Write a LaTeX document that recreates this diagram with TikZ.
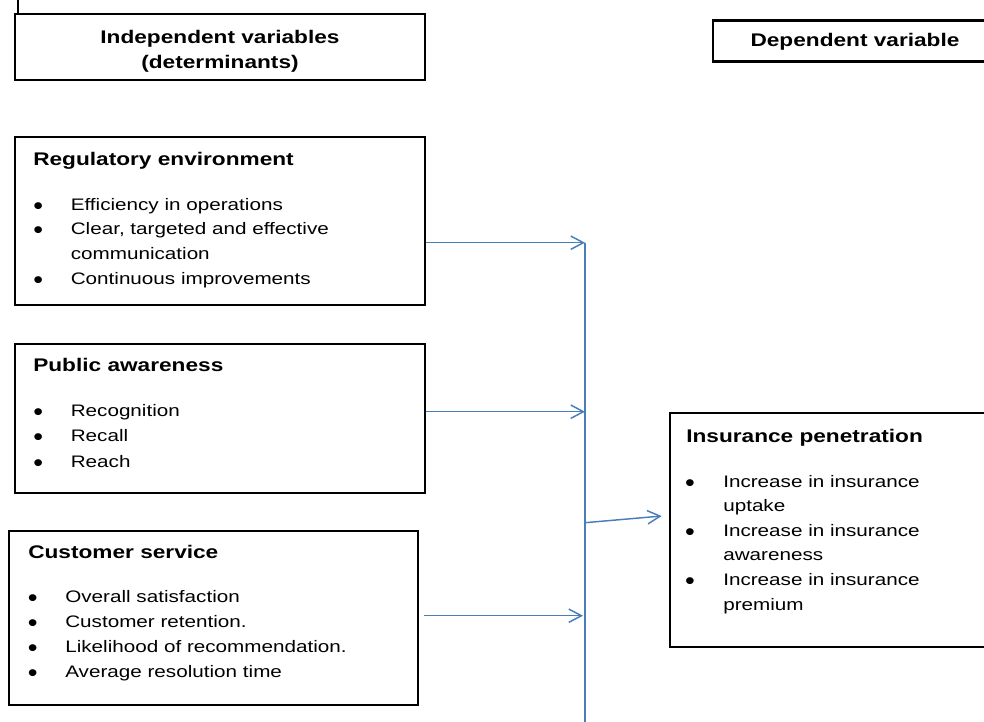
\documentclass[tikz,border=0pt]{standalone}
\usepackage{fontspec}
\setmainfont[FakeStretch=1.24]{Liberation Sans}
\newfontfamily\bulfont[FakeStretch=1.1]{Liberation Sans}
\usetikzlibrary{arrows.meta,fit}
\definecolor{linkblue}{HTML}{4A7EBB}
\begin{document}
\begin{tikzpicture}[x=0.75pt,y=-0.75pt,
  box/.style={draw=black,line width=2.2pt,inner sep=0pt},
  hdr/.style={anchor=base,inner sep=0pt,font=\fontsize{13.7}{16}\selectfont\bfseries},
  ttl/.style={anchor=base west,inner sep=0pt,font=\fontsize{13.7}{16}\selectfont\bfseries},
  itm/.style={anchor=base west,inner sep=0pt,font=\fontsize{12.5}{15}\selectfont},
  bul/.style={anchor=base,inner sep=0pt,yshift=-3pt,font=\bulfont\fontsize{19}{20}\selectfont},
  link/.style={draw=linkblue,line width=1.1pt},
  arr/.style={link,-{Straight Barb[length=9.5pt,width=10pt,line width=1.1pt]}}
]
\clip (0,0) rectangle (984,721);
\fill[white] (0,0) rectangle (984,721);

% tick mark at top left
\draw[line width=0.8pt] (18,0) -- (18,15);

% header boxes
\node[box,fit={(15,14) (425,80)}] (indbox) {};
\node[hdr] (ind1) at (220,43.3) {Independent variables};
\node[hdr] (ind2) at (220,68) {(determinants)};

\node[box,fit={(713,20.7) (1000,61.7)}] (depbox) {};
\node[hdr] (dep1) at (855,46.7) {Dependent variable};

% Regulatory environment
\node[box,fit={(15,137) (425,305)}] (reg) {};
\node[ttl] (regt) at (33,165) {Regulatory environment};
\node[bul] (regb1) at (38.3,210) {•};
\node[itm] (regi1) at (70.5,210) {Efficiency in operations};
\node[bul] (regb2) at (38.3,234.7) {•};
\node[itm] (regi2) at (70.5,234.7) {Clear, targeted and effective};
\node[itm] (regi3) at (70.5,259.3) {communication};
\node[bul] (regb4) at (38.3,284) {•};
\node[itm] (regi4) at (70.5,284) {Continuous improvements};

% Public awareness
\node[box,fit={(15,344) (425,493)}] (pub) {};
\node[ttl] (pubt) at (33,371.7) {Public awareness};
\node[bul] (pubb1) at (38.3,416.5) {•};
\node[itm] (pubi1) at (70.5,416.5) {Recognition};
\node[bul] (pubb2) at (38.3,441.7) {•};
\node[itm] (pubi2) at (70.5,441.7) {Recall};
\node[bul] (pubb3) at (38.3,467) {•};
\node[itm] (pubi3) at (70.5,467) {Reach};

% Customer service
\node[box,fit={(9,531) (418,705)}] (cust) {};
\node[ttl] (custt) at (28,558) {Customer service};
\node[bul] (custb1) at (32.7,602.5) {•};
\node[itm] (custi1) at (65,602.5) {Overall satisfaction};
\node[bul] (custb2) at (32.7,627.5) {•};
\node[itm] (custi2) at (65,627.5) {Customer retention.};
\node[bul] (custb3) at (32.7,652.5) {•};
\node[itm] (custi3) at (65,652.5) {Likelihood of recommendation.};
\node[bul] (custb4) at (32.7,677.5) {•};
\node[itm] (custi4) at (65,677.5) {Average resolution time};

% Insurance penetration
\node[box,fit={(670,413) (1000,647)}] (ins) {};
\node[ttl] (inst) at (686,442.7) {Insurance penetration};
\node[bul] (insb1) at (690,487) {•};
\node[itm] (insi1) at (723,487) {Increase in insurance};
\node[itm] (insi2) at (723,511.6) {uptake};
\node[bul] (insb3) at (690,536.2) {•};
\node[itm] (insi3) at (723,536.2) {Increase in insurance};
\node[itm] (insi4) at (723,560.8) {awareness};
\node[bul] (insb5) at (690,585.4) {•};
\node[itm] (insi5) at (723,585.4) {Increase in insurance};
\node[itm] (insi6) at (723,610) {premium};

% connectors
\coordinate (jtop) at (585,242.7);
\coordinate (jbot) at (585,722);
\coordinate (j2) at (585,411.7);
\coordinate (j3) at (583,615.7);
\coordinate (jout) at (585,522.7);
\coordinate (insin) at (661.7,516);

\draw[link] (jtop) -- (jbot);
\draw[arr] (reg.east |- jtop) -- (jtop);
\draw[arr] (pub.east |- j2) -- (j2);
\draw[arr] ([xshift=3.5pt]cust.east |- j3) -- (j3);
\draw[arr] (jout) -- (insin);
\end{tikzpicture}
\end{document}
